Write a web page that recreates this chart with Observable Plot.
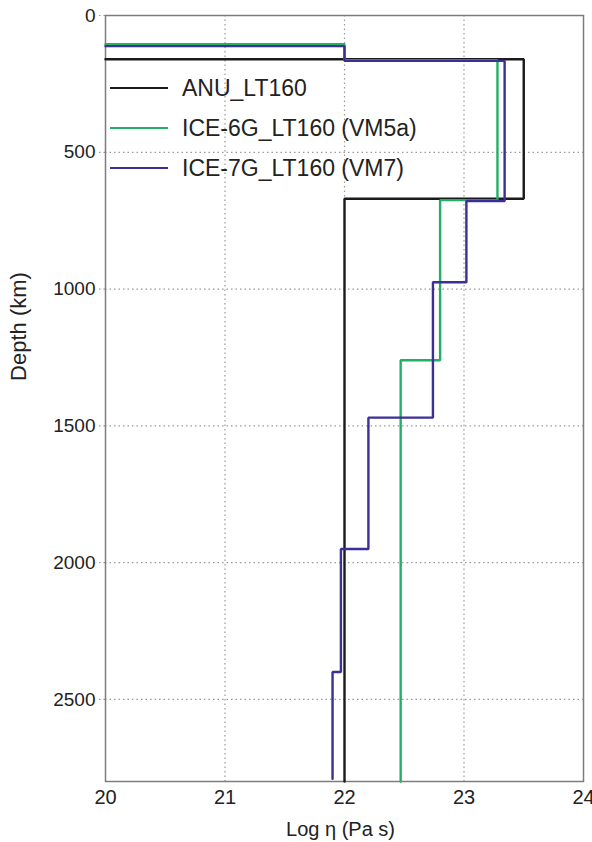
<!DOCTYPE html>
<html>
<head>
<meta charset="utf-8">
<script src="https://cdn.jsdelivr.net/npm/d3@7"></script>
<script src="https://cdn.jsdelivr.net/npm/@observablehq/plot@0.6"></script>
<style>
  html, body { margin: 0; padding: 0; background: #fff; }
  #wrap { position: relative; width: 592px; height: 842px; font-family: "Liberation Sans", Arial, sans-serif; overflow: hidden; }
  #legend { position: absolute; left: 110px; top: 68px; }
  .item { display: flex; align-items: center; height: 40px; }
  .swatch { width: 58px; height: 0; border-top: 2.5px solid; margin-right: 14px; }
  .lab { font-size: 23px; color: #222; white-space: nowrap; }
</style>
</head>
<body>
<div id="wrap"></div>
<script>
// ----- data -----
const seriesNames = ["ANU_LT160", "ICE-6G_LT160 (VM5a)", "ICE-7G_LT160 (VM7)"];
const seriesColors = ["#1a1a1a", "#22b064", "#3b2f98"];

// profile corner points: log viscosity (Pa s) and depth (km)
const anuLogEta   = [20, 23.5, 23.5, 22, 22];
const anuDepth    = [160, 160, 670, 670, 2800];

const ice6gLogEta = [20, 22, 22, 23.28, 23.28, 22.8, 22.8, 22.47, 22.47];
const ice6gDepth  = [105, 105, 163, 163, 675, 675, 1260, 1260, 2800];

const ice7gLogEta = [20, 22, 22, 23.34, 23.34, 23.02, 23.02, 22.74, 22.74, 22.2, 22.2, 21.97, 21.97, 21.9, 21.9];
const ice7gDepth  = [112, 112, 166, 166, 678, 678, 975, 975, 1470, 1470, 1950, 1950, 2400, 2400, 2790];

const xTicks = [20, 21, 22, 23, 24];
const yTicks = [0, 500, 1000, 1500, 2000, 2500];
const xGrid = [21, 22, 23];
const yGrid = [500, 1000, 1500, 2000, 2500];
const xLabel = "Log η (Pa s)";
const yLabel = "Depth (km)";

// ----- build tables -----
function toRows(xs, ys, name) { return xs.map((x, i) => ({x, y: ys[i], name})); }
const rows = [
  ...toRows(anuLogEta, anuDepth, seriesNames[0]),
  ...toRows(ice6gLogEta, ice6gDepth, seriesNames[1]),
  ...toRows(ice7gLogEta, ice7gDepth, seriesNames[2])
];

const dotted = {stroke: "#9a9a9a", strokeOpacity: 1, strokeWidth: 1.2, strokeDasharray: "1.5,3"};
const fmt = d3.format("d");

const chart = Plot.plot({
  width: 592,
  height: 842,
  marginLeft: 105,
  marginRight: 9,
  marginTop: 15,
  marginBottom: 61,
  style: {fontFamily: "'Liberation Sans', Arial, sans-serif", fontSize: "19px", color: "#222", background: "#fff", overflow: "visible"},
  x: {domain: [20, 24]},
  y: {domain: [0, 2800], reverse: true},
  color: {domain: seriesNames, range: seriesColors},
  marks: [
    Plot.gridX(xGrid, dotted),
    Plot.gridY(yGrid, dotted),
    Plot.axisY(yTicks, {tickSize: 8, ...dotted, tickPadding: 2, tickFormat: fmt, label: null, fontSize: 19}),
    Plot.axisX(xTicks, {tickSize: 0, tickPadding: 8, tickFormat: fmt, label: null, fontSize: 20}),
    Plot.text([xLabel], {text: d => d, frameAnchor: "bottom", textAnchor: "middle", lineAnchor: "middle", dx: -4, dy: 48, fontSize: 20, fill: "#222"}),
    Plot.text([yLabel], {text: d => d, frameAnchor: "left", textAnchor: "middle", lineAnchor: "middle", rotate: -90, dx: -87, dy: -72, fontSize: 22, fill: "#222"}),
    Plot.frame({stroke: "#7d7d7d", strokeWidth: 1.5}),
    Plot.line(rows, {x: "x", y: "y", z: "name", stroke: "name", strokeWidth: 2.4, strokeLinejoin: "miter"})
  ]
});

const wrap = document.getElementById("wrap");
wrap.appendChild(chart);

// legend overlay inside the plot frame
const legend = document.createElement("div");
legend.id = "legend";
seriesNames.forEach((n, i) => {
  const it = document.createElement("div");
  it.className = "item";
  const sw = document.createElement("div");
  sw.className = "swatch";
  sw.style.borderTopColor = seriesColors[i];
  const lab = document.createElement("span");
  lab.className = "lab";
  lab.textContent = n;
  it.appendChild(sw);
  it.appendChild(lab);
  legend.appendChild(it);
});
wrap.appendChild(legend);
</script>
</body>
</html>
